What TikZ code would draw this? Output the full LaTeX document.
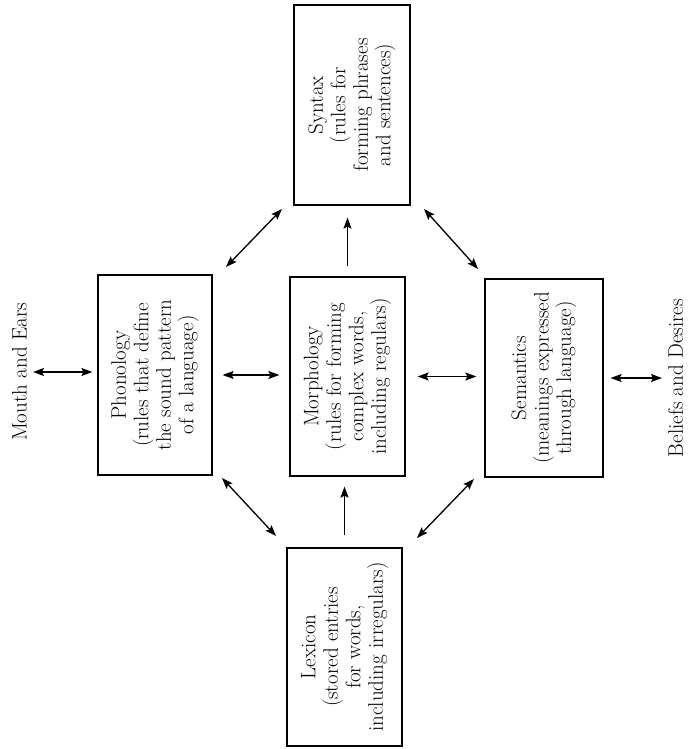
\documentclass[tikz,border=0pt]{standalone}
\usetikzlibrary{arrows.meta}
\begin{document}
\begin{tikzpicture}[x=1pt,y=-1pt,
  txt/.style={font=\fontsize{21}{22.5}\selectfont},
  box/.style={txt, draw, line width=1.2pt, rotate=90, inner sep=0pt, align=center},
  lbl/.style={txt, rotate=90, inner sep=0pt},
  tip/.tip={Stealth[length=11pt,width=8pt,inset=2pt]},
  arr/.style={line width=1.3pt, tip-tip},
  uarr/.style={line width=1.3pt, -tip}]
\useasboundingbox (0,0) rectangle (691,749);

% boxes (minimum width = vertical extent, minimum height = horizontal extent)
\node[box, minimum width=200pt, minimum height=116pt] (syn) at (352,105)
  {Syntax\\(rules for\\forming phrases\\and sentences)};
\node[box, minimum width=200pt, minimum height=114pt] (phon) at (155,375)
  {Phonology\\(rules that define\\the sound pattern\\of a language)};
\node[box, minimum width=199pt, minimum height=115pt] (morph) at (347.5,376.5)
  {Morphology\\(rules for forming\\complex words,\\including regulars)};
\node[box, minimum width=198pt, minimum height=118pt] (sem) at (544,378)
  {Semantics\\(meanings expressed\\through language)};
\node[box, minimum width=198pt, minimum height=115pt] (lex) at (344.5,647)
  {Lexicon\\(stored entries\\for words,\\including irregulars)};

% side labels
\node[lbl, anchor=south] (mouth) at (27,372) {Mouth and Ears};
\node[lbl, anchor=north] (beliefs) at (668,378) {Beliefs and Desires};

% horizontal connectors
\draw[arr, shorten <=6pt, shorten >=5pt] (mouth.south) -- (mouth.south -| phon.north);
\draw[arr, shorten <=10pt, shorten >=10pt] (phon.south) -- (phon.south -| morph.north);
\draw[arr, shorten <=12pt, shorten >=8pt] (morph.south) -- (morph.south -| sem.north);
\draw[arr, shorten <=7pt, shorten >=6pt] (sem.south) -- (sem.south -| beliefs.north);

% vertical connectors
\draw[uarr, shorten <=10pt, shorten >=12pt] (morph.east) -- (morph.east |- syn.west);
\draw[uarr, shorten <=12pt, shorten >=10pt] (lex.east) -- (lex.east |- morph.west);

% diagonal connectors
\coordinate (ps1) at (226,267); \coordinate (ps2) at (282,209);
\coordinate (ss1) at (424,209); \coordinate (ss2) at (478,269);
\coordinate (pl1) at (222,478); \coordinate (pl2) at (276,536);
\coordinate (sl1) at (474,479); \coordinate (sl2) at (417,538);
\draw[arr] (ps1) -- (ps2);
\draw[arr] (ss1) -- (ss2);
\draw[arr] (pl1) -- (pl2);
\draw[arr] (sl1) -- (sl2);
\end{tikzpicture}
\end{document}
